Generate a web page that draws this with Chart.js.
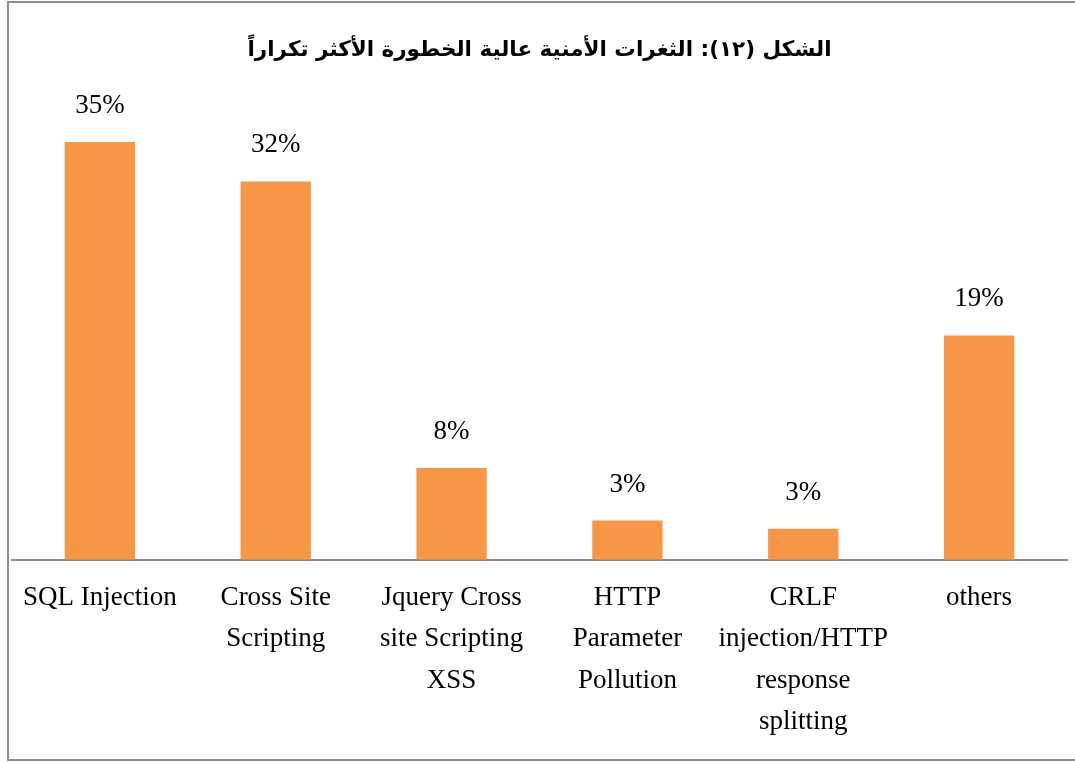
<!DOCTYPE html>
<html>
<head>
<meta charset="utf-8">
<script src="https://cdn.jsdelivr.net/npm/chart.js@4/dist/chart.umd.min.js"></script>
<style>
  html, body { margin: 0; padding: 0; background: #fff; }
  #wrap { width: 1075px; height: 762px; position: relative; }
</style>
</head>
<body>
<div id="wrap"><canvas id="c" width="1075" height="762"></canvas></div>
<script>
const titleText = 'الشكل (١٢): الثغرات الأمنية عالية الخطورة الأكثر تكراراً';
const categories = [
  ['SQL Injection'],
  ['Cross Site', 'Scripting'],
  ['Jquery Cross', 'site Scripting', 'XSS'],
  ['HTTP', 'Parameter', 'Pollution'],
  ['CRLF', 'injection/HTTP', 'response', 'splitting'],
  ['others']
];
const values = [35.0, 31.7, 7.7, 3.3, 2.6, 18.8];
const valueLabels = ['35%', '32%', '8%', '3%', '3%', '19%'];

const serif = "'Liberation Serif', 'Times New Roman', serif";

const borderPlugin = {
  id: 'frame',
  afterDraw(chart) {
    const ctx = chart.ctx;
    ctx.save();
    ctx.strokeStyle = '#8c8c8c';
    ctx.lineWidth = 2;
    ctx.strokeRect(8, 2, 1080, 758);
    ctx.restore();
  }
};

const valueLabelPlugin = {
  id: 'valueLabels',
  afterDatasetsDraw(chart) {
    const ctx = chart.ctx;
    const meta = chart.getDatasetMeta(0);
    ctx.save();
    ctx.font = '27px ' + serif;
    ctx.fillStyle = '#000';
    ctx.textAlign = 'center';
    ctx.textBaseline = 'middle';
    meta.data.forEach((el, i) => {
      ctx.fillText(valueLabels[i], el.x, el.y - 36);
    });
    ctx.restore();
  }
};

new Chart(document.getElementById('c'), {
  type: 'bar',
  data: {
    labels: categories,
    datasets: [{
      data: values,
      backgroundColor: '#F79646',
      borderWidth: 0,
      barPercentage: 0.4,
      categoryPercentage: 1.0
    }]
  },
  options: {
    responsive: false,
    animation: false,
    layout: { padding: { left: 12, right: 8, top: 0, bottom: 2 } },
    plugins: {
      legend: { display: false },
      tooltip: { enabled: false },
      title: {
        display: true,
        text: titleText,
        color: '#000',
        font: { family: "'DejaVu Sans', sans-serif", size: 21.5, weight: 'bold' },
        padding: { top: 38, bottom: 18.5 }
      }
    },
    scales: {
      x: {
        grid: { display: false, drawTicks: false },
        border: { display: true, color: '#898989', width: 2 },
        ticks: {
          color: '#000',
          font: { family: serif, size: 27, lineHeight: 1.52 },
          padding: 18,
          maxRotation: 0,
          autoSkip: false
        }
      },
      y: {
        display: false,
        min: 0,
        max: 40
      }
    }
  },
  plugins: [valueLabelPlugin, borderPlugin]
});
</script>
</body>
</html>
